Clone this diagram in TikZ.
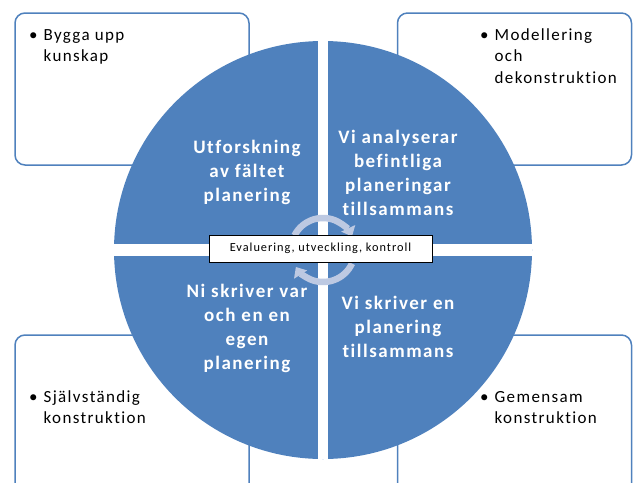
\documentclass[tikz,border=0pt]{standalone}
\usepackage{fontspec}
\setmainfont{Carlito}[Ligatures=NoCommon, LetterSpace=8]
\usetikzlibrary{arrows.meta}
\definecolor{ringblue}{HTML}{4F81BD}
\definecolor{cyclegray}{HTML}{BDC9E2}
\newcommand{\punkt}[1]{\textbullet\hspace{6pt}\begin{tabular}[t]{@{}l@{}}#1\end{tabular}}

\begin{document}
\begin{tikzpicture}[x=1pt, y=-1pt,
    corner/.style = {draw=ringblue, line width=1.5pt, rounded corners=10pt, fill=white, minimum width=234pt, inner sep=0pt},
    point/.style = {anchor=base west, inner sep=0pt, font=\fontsize{17}{21.5}\selectfont},
    quarter/.style = {text=white, align=center, font=\fontsize{19}{24}\selectfont\bfseries},
    cycle/.style = {draw=cyclegray, line width=6.5pt, -{Triangle[length=9pt, width=15pt]}},
    evalbox/.style = {draw, line width=0.8pt, fill=white, minimum width=223pt, minimum height=27pt, font=\fontsize{12.3}{15}\selectfont}]
    \clip (0, 0) rectangle (636, 482);

    % corner boxes
    \node[corner, minimum height=152pt] at (132, 89) (tl) {};
    \node[corner, minimum height=152pt] at (514.5, 89) (tr) {};
    \node[corner, minimum height=170pt] at (132, 420) (bl) {};
    \node[corner, minimum height=170pt] at (514.5, 420) (br) {};

    \node[point] at (29, 40) (tltext) {\punkt{Bygga upp\\kunskap}};
    \node[point] at (480, 40) (trtext) {\punkt{Modellering\\och\\dekonstruktion}};
    \node[point] at (29, 402) (bltext) {\punkt{Självständig\\konstruktion}};
    \node[point] at (480, 402) (brtext) {\punkt{Gemensam\\konstruktion}};

    % the ring
    \node[circle, fill=ringblue, inner sep=0pt, minimum size=418pt] at (323, 250) (ring) {};
    \draw[white, line width=10pt] (ring.north) -- (ring.south);
    \draw[white, line width=12pt] (ring.west) -- (ring.east);

    \node[quarter] at (247, 172) (q1) {Utforskning\\av fältet\\planering};
    \node[quarter] at (398, 173) (q2) {Vi analyserar\\befintliga\\planeringar\\tillsammans};
    \node[quarter] at (247, 328) (q3) {Ni skriver var\\och en en\\egen\\planering};
    \node[quarter] at (398, 327) (q4) {Vi skriver en\\planering\\tillsammans};

    % cycle in the middle
    \coordinate (hub) at (323, 250);
    \draw[cycle] ([shift={(207:32)}]hub) arc[start angle=207, end angle=335, radius=32];
    \draw[cycle] ([shift={(25:32)}]hub) arc[start angle=25, end angle=148, radius=32];

    \node[evalbox] at (320.5, 248.5) (eval) {Evaluering, utveckling, kontroll};
\end{tikzpicture}
\end{document}
